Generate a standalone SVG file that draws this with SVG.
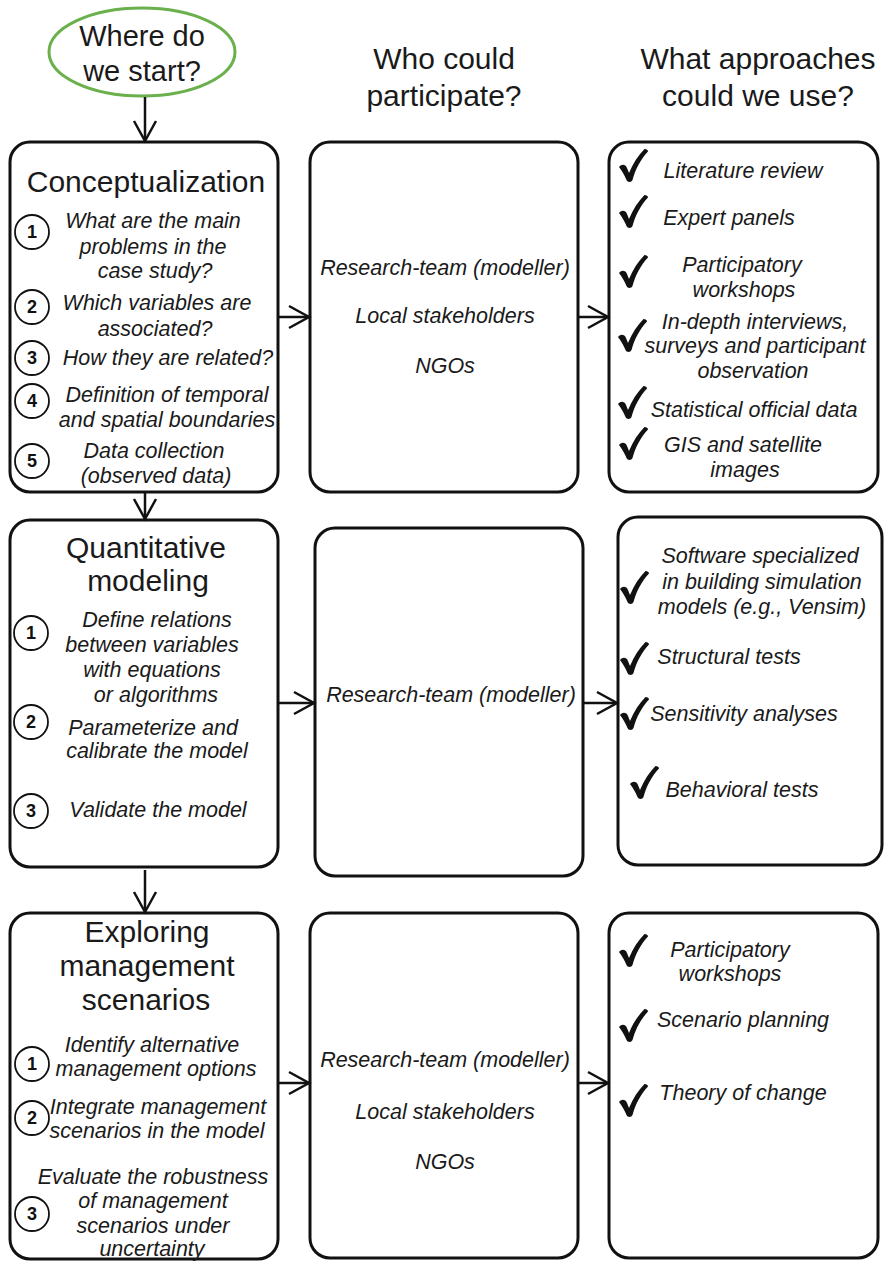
<svg xmlns="http://www.w3.org/2000/svg" xmlns:xlink="http://www.w3.org/1999/xlink" width="884" height="1261" viewBox="0 0 884 1261">
  <style>
    .box { fill: #ffffff; stroke: #111111; stroke-width: 3; }
    .start { fill: #ffffff; stroke: #6ab04c; stroke-width: 3; }
    .num { fill: #ffffff; stroke: #111111; stroke-width: 1.8; }
    .numt { font-family: "Liberation Sans", Arial, sans-serif; font-size: 18px; font-weight: bold; fill: #111111; text-anchor: middle; }
    .head { font-family: "Liberation Sans", Arial, sans-serif; font-size: 30px; fill: #1a1a1a; text-anchor: middle; }
    .q { font-family: "Liberation Sans", Arial, sans-serif; font-size: 29px; fill: #1a1a1a; text-anchor: middle; }
    .it { font-family: "Liberation Sans", Arial, sans-serif; font-size: 21.5px; font-style: italic; fill: #1a1a1a; text-anchor: middle; }
    .conn { fill: none; stroke: #111111; stroke-width: 2.5; marker-end: url(#arr); }
    .chk { fill: #111111; }
  </style>
  <defs>
    <marker id="arr" markerUnits="userSpaceOnUse" markerWidth="26" markerHeight="28" refX="22" refY="13" orient="auto">
      <path d="M2,2 L22,13 L2,24" fill="none" stroke="#111111" stroke-width="2.5"/>
    </marker>
    <!-- heavy hand-drawn tick, about 29 x 33 -->
    <path id="tick" d="M0,18 C3,14.5 6.5,15.5 8,19 L10,24 C14,14 19.5,6 25.5,0 C27.5,0 29,1 29,2.5 C21.5,10.5 16.5,20 13.5,31 C12.5,33.5 8.5,33.5 7.5,31 C5.5,26 3,22 0,18 Z"/>
  </defs>

  <!-- column questions -->
  <g id="start">
    <ellipse class="start" cx="142" cy="52" rx="93" ry="44"/>
    <text class="q" x="142" y="46">Where do</text>
    <text class="q" x="142" y="81">we start?</text>
  </g>
  <g id="head-who">
    <text class="head" x="444" y="69">Who could</text>
    <text class="head" x="444" y="106">participate?</text>
  </g>
  <g id="head-what">
    <text class="head" x="758" y="69">What approaches</text>
    <text class="head" x="758" y="106">could we use?</text>
  </g>

  <!-- row 1 -->
  <g id="conceptualization">
    <rect class="box" x="10" y="142" width="268" height="350" rx="20"/>
    <text class="head" x="146" y="192">Conceptualization</text>
    <circle class="num" cx="32" cy="232" r="17"/><text class="numt" x="32" y="238">1</text>
    <circle class="num" cx="32" cy="307" r="17"/><text class="numt" x="32" y="313">2</text>
    <circle class="num" cx="32" cy="358" r="17"/><text class="numt" x="32" y="364">3</text>
    <circle class="num" cx="32" cy="401" r="17"/><text class="numt" x="32" y="407">4</text>
    <circle class="num" cx="32" cy="461" r="17"/><text class="numt" x="32" y="467">5</text>
    <text class="it" x="153" y="228">What are the main</text>
    <text class="it" x="153" y="254">problems in the</text>
    <text class="it" x="155" y="278">case study?</text>
    <text class="it" x="157" y="310">Which variables are</text>
    <text class="it" x="155" y="336">associated?</text>
    <text class="it" x="168" y="365">How they are related?</text>
    <text class="it" x="167" y="402">Definition of temporal</text>
    <text class="it" x="167" y="427">and spatial boundaries</text>
    <text class="it" x="154" y="458">Data collection</text>
    <text class="it" x="156" y="483">(observed data)</text>
  </g>
  <g id="who-1">
    <rect class="box" x="310" y="142" width="268" height="350" rx="20"/>
    <text class="it" x="445" y="275">Research-team (modeller)</text>
    <text class="it" x="445" y="323">Local stakeholders</text>
    <text class="it" x="445" y="373">NGOs</text>
  </g>
  <g id="what-1">
    <rect class="box" x="609" y="142" width="269" height="350" rx="20"/>
    <use class="chk" xlink:href="#tick" x="619" y="149"/>
    <use class="chk" xlink:href="#tick" x="619" y="195"/>
    <use class="chk" xlink:href="#tick" x="619" y="255"/>
    <use class="chk" xlink:href="#tick" x="618" y="319"/>
    <use class="chk" xlink:href="#tick" x="618" y="386"/>
    <use class="chk" xlink:href="#tick" x="619" y="427"/>
    <text class="it" x="743" y="178">Literature review</text>
    <text class="it" x="729" y="225">Expert panels</text>
    <text class="it" x="742" y="272">Participatory</text>
    <text class="it" x="744" y="297">workshops</text>
    <text class="it" x="755" y="329">In-depth interviews,</text>
    <text class="it" x="755" y="353">surveys and participant</text>
    <text class="it" x="753" y="378">observation</text>
    <text class="it" x="754" y="417">Statistical official data</text>
    <text class="it" x="743" y="452">GIS and satellite</text>
    <text class="it" x="745" y="477">images</text>
  </g>

  <!-- row 2 -->
  <g id="quantitative-modeling">
    <rect class="box" x="10" y="520" width="268" height="347" rx="20"/>
    <text class="head" x="146" y="558">Quantitative</text>
    <text class="head" x="148" y="591">modeling</text>
    <circle class="num" cx="31" cy="633" r="17"/><text class="numt" x="31" y="639">1</text>
    <circle class="num" cx="31" cy="722" r="17"/><text class="numt" x="31" y="728">2</text>
    <circle class="num" cx="31" cy="811" r="17"/><text class="numt" x="31" y="817">3</text>
    <text class="it" x="157" y="627">Define relations</text>
    <text class="it" x="152" y="652">between variables</text>
    <text class="it" x="152" y="677">with equations</text>
    <text class="it" x="156" y="702">or algorithms</text>
    <text class="it" x="153" y="735">Parameterize and</text>
    <text class="it" x="157" y="758">calibrate the model</text>
    <text class="it" x="158" y="817">Validate the model</text>
  </g>
  <g id="who-2">
    <rect class="box" x="315" y="528" width="268" height="348" rx="20"/>
    <text class="it" x="451" y="702">Research-team (modeller)</text>
  </g>
  <g id="what-2">
    <rect class="box" x="618" y="517" width="264" height="348" rx="20"/>
    <use class="chk" xlink:href="#tick" x="620" y="571"/>
    <use class="chk" xlink:href="#tick" x="620" y="642"/>
    <use class="chk" xlink:href="#tick" x="620" y="697"/>
    <use class="chk" xlink:href="#tick" x="630" y="766"/>
    <text class="it" x="760" y="563">Software specialized</text>
    <text class="it" x="762" y="589">in building simulation</text>
    <text class="it" x="762" y="614">models (e.g., Vensim)</text>
    <text class="it" x="729" y="664">Structural tests</text>
    <text class="it" x="744" y="721">Sensitivity analyses</text>
    <text class="it" x="742" y="797">Behavioral tests</text>
  </g>

  <!-- row 3 -->
  <g id="exploring-scenarios">
    <rect class="box" x="10" y="913" width="268" height="346" rx="20"/>
    <text class="head" x="147" y="942">Exploring</text>
    <text class="head" x="147" y="976">management</text>
    <text class="head" x="146" y="1010">scenarios</text>
    <circle class="num" cx="32" cy="1064" r="17"/><text class="numt" x="32" y="1070">1</text>
    <circle class="num" cx="32" cy="1118" r="17"/><text class="numt" x="32" y="1124">2</text>
    <circle class="num" cx="32" cy="1214" r="17"/><text class="numt" x="32" y="1220">3</text>
    <text class="it" x="152" y="1052">Identify alternative</text>
    <text class="it" x="156" y="1076">management options</text>
    <text class="it" x="158" y="1114">Integrate management</text>
    <text class="it" x="157" y="1138">scenarios in the model</text>
    <text class="it" x="153" y="1184">Evaluate the robustness</text>
    <text class="it" x="153" y="1208">of management</text>
    <text class="it" x="153" y="1233">scenarios under</text>
    <text class="it" x="152" y="1256">uncertainty</text>
  </g>
  <g id="who-3">
    <rect class="box" x="310" y="913" width="268" height="345" rx="20"/>
    <text class="it" x="445" y="1067">Research-team (modeller)</text>
    <text class="it" x="445" y="1119">Local stakeholders</text>
    <text class="it" x="445" y="1169">NGOs</text>
  </g>
  <g id="what-3">
    <rect class="box" x="609" y="913" width="269" height="345" rx="20"/>
    <use class="chk" xlink:href="#tick" x="619" y="934"/>
    <use class="chk" xlink:href="#tick" x="619" y="1009"/>
    <use class="chk" xlink:href="#tick" x="619" y="1084"/>
    <text class="it" x="730" y="957">Participatory</text>
    <text class="it" x="730" y="981">workshops</text>
    <text class="it" x="743" y="1027">Scenario planning</text>
    <text class="it" x="743" y="1100">Theory of change</text>
  </g>

  <!-- connectors -->
  <g id="connectors">
    <path class="conn" d="M145,97 L145,141"/>
    <path class="conn" d="M145,492 L145,519"/>
    <path class="conn" d="M145,870 L145,912"/>
    <path class="conn" d="M278,317 L309,317"/>
    <path class="conn" d="M578,317 L608,317"/>
    <path class="conn" d="M278,703 L314,703"/>
    <path class="conn" d="M583,703 L617,703"/>
    <path class="conn" d="M278,1083 L309,1083"/>
    <path class="conn" d="M578,1083 L608,1083"/>
  </g>
</svg>
